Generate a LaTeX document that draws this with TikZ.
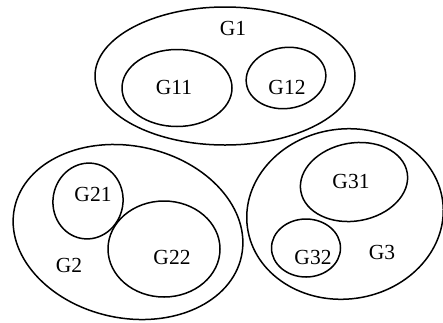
\documentclass[tikz,border=0pt]{standalone}
\usepackage{fontspec}
\setmainfont{Liberation Serif}
\usetikzlibrary{shapes.geometric}
\begin{document}
\begin{tikzpicture}[x=1pt,y=-1pt,
  ell/.style={draw,ellipse,line width=1.5pt,inner sep=0pt},
  lbl/.style={font=\fontsize{21.5}{23}\selectfont,inner sep=0pt}]
\useasboundingbox (0,0) rectangle (443,322);
% G1
\node[ell,minimum width=260pt,minimum height=138pt] (g1) at (225,76) {};
\node[lbl] (g1l) at (233,28) {G1};
\node[ell,minimum width=110pt,minimum height=77pt] (g11) at (177,88) {};
\node[lbl] (g11l) at (174,87) {G11};
\node[ell,minimum width=80pt,minimum height=61pt,rotate=8] (g12) at (286,78) {};
\node[lbl] (g12l) at (287,87) {G12};
% G2
\node[ell,minimum width=232pt,minimum height=172pt,rotate=-12] (g2) at (128,232) {};
\node[lbl] (g2l) at (69,265) {G2};
\node[ell,minimum width=70pt,minimum height=76pt,rotate=-10] (g21) at (88,201) {};
\node[lbl] (g21l) at (93,194) {G21};
\node[ell,minimum width=112pt,minimum height=96pt] (g22) at (164,249) {};
\node[lbl] (g22l) at (172,257) {G22};
% G3
\node[ell,minimum width=197pt,minimum height=170pt,rotate=8] (g3) at (345,214) {};
\node[lbl] (g3l) at (382,252) {G3};
\node[ell,minimum width=108pt,minimum height=78pt,rotate=10] (g31) at (354,182) {};
\node[lbl] (g31l) at (351,181) {G31};
\node[ell,minimum width=69pt,minimum height=58pt] (g32) at (306,248) {};
\node[lbl] (g32l) at (313,257) {G32};
\end{tikzpicture}
\end{document}
